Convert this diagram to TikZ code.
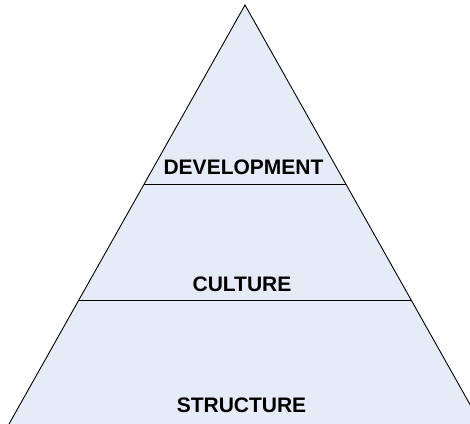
\documentclass[tikz,border=0pt]{standalone}
\usepackage{fontspec}
\setmainfont{Liberation Sans}
\usetikzlibrary{calc}
\definecolor{pyrfill}{HTML}{E6ECF7}
\tikzset{
  edge/.style={draw=black, line width=0.9pt},
  label/.style={font=\bfseries\fontsize{21}{25}\selectfont, anchor=base, inner sep=0pt}
}
\begin{document}
\begin{tikzpicture}[x=1pt,y=-1pt]
\useasboundingbox (0,0) rectangle (470,423);
\clip (0,0) rectangle (470,423);
\coordinate (apex) at (245,5);
\coordinate (bl) at (0,440);
\coordinate (br) at (490,440);
\filldraw[edge, fill=pyrfill, line join=miter] (bl) -- (apex) -- (br);
\coordinate (d1l) at ($(apex)!0.41149!(bl)$);
\coordinate (d1r) at ($(apex)!0.41149!(br)$);
\coordinate (d2l) at ($(apex)!0.67931!(bl)$);
\coordinate (d2r) at ($(apex)!0.67931!(br)$);
\draw[edge] (d1l) -- (d1r);
\draw[edge] (d2l) -- (d2r);
\node[label] (dev) at (243.5,174.5) {DEVELOPMENT};
\node[label] (cul) at (242,291) {CULTURE};
\node[label] (str) at (241.5,412.5) {STRUCTURE};
\end{tikzpicture}
\end{document}
